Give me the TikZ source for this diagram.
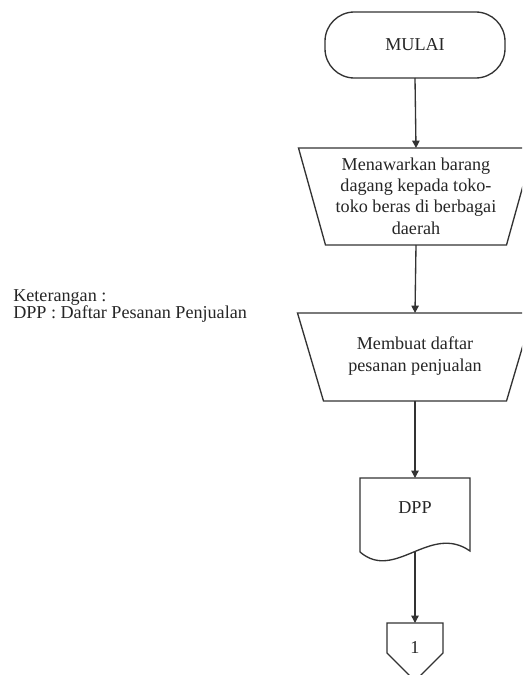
\documentclass[tikz,border=0pt]{standalone}
\usepackage{fontspec}
\setmainfont{Liberation Serif}
\usetikzlibrary{arrows.meta}
\begin{document}
\begin{tikzpicture}[x=0.75pt,y=-0.75pt,
  shapeline/.style={draw=black!80, line width=1pt},
  conn/.style={draw=black!80, line width=1pt, -{Triangle[length=5.5pt,width=5.5pt]}},
  txt/.style={font=\fontsize{13.6}{16}\selectfont, align=center, inner sep=0pt, text=black!85},
  box/.style={inner sep=0pt, outer sep=0pt}]
\useasboundingbox (0,0) rectangle (522,675);
\clip (0,0) rectangle (522,675);
\fill[white] (0,0) rectangle (522,675);

% Terminator
\node[box, shapeline, rounded corners=22pt, minimum width=135pt, minimum height=49.5pt, txt] (start) at (415,45) {MULAI};

% Trapezoid 1
\node[box, minimum width=176.25pt, minimum height=72.75pt] (t1) at (416,196.5) {};
\draw[shapeline] (t1.north west) -- (t1.north east) -- ([xshift=-20.25pt]t1.south east) -- ([xshift=20.25pt]t1.south west) -- cycle;
\node[txt] (t1l) at (416,196) {Menawarkan barang\\dagang kepada toko-\\toko beras di berbagai\\daerah};

% Trapezoid 2
\node[box, minimum width=176.25pt, minimum height=66pt] (t2) at (415,357) {};
\draw[shapeline] (t2.north west) -- (t2.north east) -- ([xshift=-19.5pt]t2.south east) -- ([xshift=19.5pt]t2.south west) -- cycle;
\node[txt, font=\fontsize{13.6}{17}\selectfont] (t2l) at (415,356) {Membuat daftar\\pesanan penjualan};

% Document
\node[box, minimum width=82.5pt, minimum height=55.5pt] (doc) at (415,515) {};
\draw[shapeline] (doc.south west) -- (doc.north west) -- (doc.north east) -- (470,551)
  .. controls (430,523) and (395,582) .. (doc.south west);
\node[txt] (docl) at (415,508) {DPP};

% Off-page connector
\node[box, minimum width=42pt, minimum height=22.5pt] (off) at (415,638) {};
\draw[shapeline] (off.south west) -- (off.north west) -- (off.north east) -- (off.south east) -- (415,681) -- cycle;
\node[txt] (offl) at (415,648) {1};

% Connectors
\draw[conn] (start.south) -- (t1.north);
\draw[conn] (t1.south) -- (t2.north);
\draw[conn] (t2.south) -- (doc.north);
\draw[conn] (doc.south) -- (off.north);

% Legend
\node[txt, anchor=base west] (k1) at (13,301) {Keterangan :};
\node[txt, anchor=base west] (k2) at (13,318) {DPP : Daftar Pesanan Penjualan};
\end{tikzpicture}
\end{document}
